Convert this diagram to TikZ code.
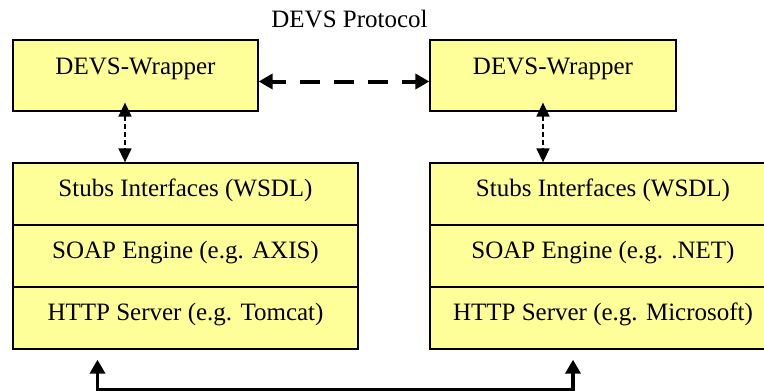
\documentclass[tikz,border=0pt]{standalone}
\usepackage{fontspec}
\setmainfont{Liberation Serif}
\usetikzlibrary{arrows.meta}
\definecolor{boxyellow}{HTML}{FFFF99}
\tikzset{
  box/.style={draw=black, line width=1.3pt, fill=boxyellow, inner sep=0pt, font=\fontsize{25pt}{29pt}\selectfont},
  wrapbox/.style={box, minimum width=#1, text height=34pt, text depth=37pt},
  rowbox/.style={box, minimum width=#1, text height=33pt, text depth=29pt},
  thickdash/.style={line width=4pt, dash pattern=on 20pt off 14pt, dash phase=6pt, {Triangle[length=14pt,width=15pt]}-{Triangle[length=14pt,width=15pt]}},
  thindash/.style={line width=1.5pt, dash pattern=on 5pt off 3pt, {Triangle[length=14pt,width=13pt]}-{Triangle[length=14pt,width=13pt]}},
  bus/.style={line width=3.5pt, {Triangle[length=14pt,width=15pt]}-{Triangle[length=14pt,width=15pt]}, shorten <=10pt, shorten >=10pt},
  lbl/.style={inner sep=0pt, anchor=base, font=\fontsize{25pt}{29pt}\selectfont}
}
\begin{document}
\begin{tikzpicture}[x=1pt, y=-1pt]
\clip (0,0) rectangle (764,391);
\node[lbl] (proto) at (349.5,27) {DEVS Protocol};
\node[wrapbox=245pt] (lw) at (135.5,75.5) {DEVS-Wrapper};
\node[wrapbox=246pt] (rw) at (553,75.5) {DEVS-Wrapper};
\node[rowbox=345pt] (ls1) at (185.5,194) {Stubs Interfaces (WSDL)};
\node[rowbox=345pt] (ls2) at (185.5,256) {SOAP Engine (e.g. AXIS)};
\node[rowbox=345pt] (ls3) at (185.5,318) {HTTP Server (e.g. Tomcat)};
\node[rowbox=346pt] (rs1) at (603,194) {Stubs Interfaces (WSDL)};
\node[rowbox=346pt] (rs2) at (603,256) {SOAP Engine (e.g. .NET)};
\node[rowbox=346pt] (rs3) at (603,318) {HTTP Server (e.g. Microsoft)};
\draw[thickdash] ([yshift=-6pt]lw.east) -- ([yshift=-6pt]rw.west);
\draw[thindash] ([xshift=-10.5pt,yshift=9pt]lw.south) -- ([xshift=-10.5pt]lw.south |- ls1.north);
\draw[thindash] ([xshift=-10pt,yshift=9pt]rw.south) -- ([xshift=-10pt]rw.south |- rs1.north);
\draw[bus] ([xshift=-88pt]ls3.south) -- ++(0,40) -| ([xshift=-30pt]rs3.south);
\end{tikzpicture}
\end{document}
